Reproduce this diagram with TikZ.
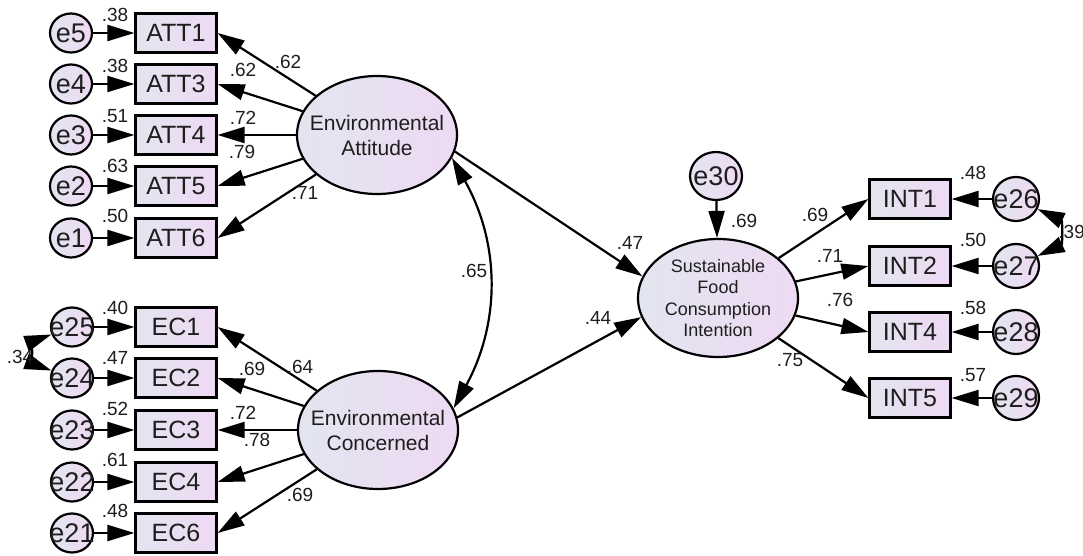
\documentclass[tikz,border=0pt]{standalone}
\usepackage{fontspec}
\setmainfont{Liberation Sans}
\usetikzlibrary{arrows.meta,shapes.geometric}
\definecolor{shL}{HTML}{E2E5F0}
\definecolor{shR}{HTML}{EED9F3}
\definecolor{txt}{HTML}{1E1E1E}
\newcommand{\ErrNode}[5][err]{\node[#1] (#2) at (#3,#4) {}; \node[errtxt] (#2t) at (#2) {#5};}
\newcommand{\LatNode}[5][\fontsize{21}{25}\selectfont]{\node[lat] (#2) at (#3,#4) {}; \node[lattxt,font=#1] (#2t) at (#2) {#5};}
\begin{document}
\begin{tikzpicture}[x=1pt,y=1pt,
 obs/.style={draw=black, line width=2.2pt, rectangle, minimum width=81pt, minimum height=39pt, inner sep=0pt, left color=shL, right color=shR, text=txt, font=\fontsize{25}{28}\selectfont},
 err/.style={draw=black, line width=2.2pt, ellipse, minimum width=42pt, minimum height=39pt, inner sep=0pt, left color=shL, right color=shR},
 errR/.style={err, minimum width=46pt, minimum height=44pt},
 errT/.style={err, minimum width=52pt, minimum height=48pt},
 errtxt/.style={inner sep=0pt, text=txt, font=\fontsize{27}{30}\selectfont},
 lat/.style={draw=black, line width=2.2pt, ellipse, minimum width=160pt, minimum height=118pt, inner sep=0pt, left color=shL, right color=shR},
 lattxt/.style={inner sep=0pt, align=center, text=txt},
 arr/.style={line width=2.2pt, -{Triangle[length=27pt,width=16pt]}},
 cov/.style={line width=2.2pt, {Triangle[length=27pt,width=16pt]}-{Triangle[length=27pt,width=16pt]}},
 lbl/.style={font=\fontsize{19}{21}\selectfont, inner sep=0pt, text=txt},
]
\useasboundingbox (0,0) rectangle (1083,-556);
% ---------- Environmental Attitude block
\ErrNode{e5}{71}{-33}{e5}
\ErrNode{e4}{71}{-84}{e4}
\ErrNode{e3}{71}{-135}{e3}
\ErrNode{e2}{71}{-186}{e2}
\ErrNode{e1}{71}{-238}{e1}
\node[obs] (ATT1) at (176,-33) {ATT1};
\node[obs] (ATT3) at (176,-84) {ATT3};
\node[obs] (ATT4) at (176,-135) {ATT4};
\node[obs] (ATT5) at (176,-186) {ATT5};
\node[obs] (ATT6) at (176,-238) {ATT6};
\LatNode{EA}{377}{-135}{Environmental\\Attitude}
\foreach \e/\b in {e5/ATT1,e4/ATT3,e3/ATT4,e2/ATT5,e1/ATT6}{\draw[arr] (\e) -- (\b);}
\foreach \b in {ATT1,ATT3,ATT4,ATT5,ATT6}{\draw[arr] (EA) -- (\b.east);}
\node[lbl] (r1) at (115,-15) {.38};
\node[lbl] (r2) at (115,-66) {.38};
\node[lbl] (r3) at (115,-116) {.51};
\node[lbl] (r4) at (115,-166) {.63};
\node[lbl] (r5) at (115,-216) {.50};
\node[lbl] (l1) at (288,-62) {.62};
\node[lbl] (l2) at (243,-70) {.62};
\node[lbl] (l3) at (243,-118) {.72};
\node[lbl] (l4) at (242,-152) {.79};
\node[lbl] (l5) at (305,-193) {.71};
% ---------- Environmental Concerned block
\ErrNode{e25}{72}{-327}{e25}
\ErrNode{e24}{72}{-378}{e24}
\ErrNode{e23}{72}{-430}{e23}
\ErrNode{e22}{72}{-482}{e22}
\ErrNode{e21}{72}{-533}{e21}
\node[obs] (EC1) at (176,-327) {EC1};
\node[obs] (EC2) at (176,-378) {EC2};
\node[obs] (EC3) at (176,-430) {EC3};
\node[obs] (EC4) at (176,-482) {EC4};
\node[obs] (EC6) at (176,-533) {EC6};
\LatNode{EC}{378}{-430}{Environmental\\Concerned}
\foreach \e/\b in {e25/EC1,e24/EC2,e23/EC3,e22/EC4,e21/EC6}{\draw[arr] (\e) -- (\b);}
\foreach \b in {EC1,EC2,EC3,EC4,EC6}{\draw[arr] (EC) -- (\b.east);}
\draw[cov] (e25.200) to[out=200,in=160,looseness=1.3] (e24.160);
\node[lbl] (c1) at (20,-357) {.34};
\node[lbl] (r6) at (115,-308) {.40};
\node[lbl] (r7) at (115,-358) {.47};
\node[lbl] (r8) at (115,-409) {.52};
\node[lbl] (r9) at (115,-460) {.61};
\node[lbl] (r10) at (115,-511) {.48};
\node[lbl] (l6) at (300,-367) {.64};
\node[lbl] (l7) at (252,-369) {.69};
\node[lbl] (l8) at (243,-413) {.72};
\node[lbl] (l9) at (257,-440) {.78};
\node[lbl] (l10) at (300,-495) {.69};
% ---------- Sustainable Food Consumption Intention block
\LatNode[\fontsize{18}{21.5}\selectfont]{SF}{718}{-298}{Sustainable\\Food\\Consumption\\Intention}
\ErrNode[errT]{e30}{716}{-176}{e30}
\draw[arr] (e30) -- (SF);
\node[lbl] (s1) at (744,-221) {.69};
\draw[arr] (EA.-12) -- (SF.164);
\draw[arr] (EC.9) -- (SF.194);
\draw[cov] (EA.-17) to[bend left=29] (EC.16);
\node[lbl] (m1) at (474,-271) {.65};
\node[lbl] (m2) at (630,-243) {.47};
\node[lbl] (m3) at (598,-318) {.44};
\node[obs] (INT1) at (910,-199) {INT1};
\node[obs] (INT2) at (910,-266) {INT2};
\node[obs] (INT4) at (910,-332) {INT4};
\node[obs] (INT5) at (910,-398) {INT5};
\ErrNode[errR]{e26}{1016}{-199}{e26}
\ErrNode[errR]{e27}{1016}{-266}{e27}
\ErrNode[errR]{e28}{1016}{-332}{e28}
\ErrNode[errR]{e29}{1016}{-398}{e29}
\foreach \b in {INT1,INT2,INT4,INT5}{\draw[arr] (SF) -- (\b.west);}
\foreach \e/\b in {e26/INT1,e27/INT2,e28/INT4,e29/INT5}{\draw[arr] (\e) -- (\b);}
\draw[cov] (e26.-25) to[out=-25,in=25,looseness=1.5] (e27.25);
\node[lbl,anchor=east] (c2) at (1085,-232) {.39};
\node[lbl] (k1) at (815,-215) {.69};
\node[lbl] (k2) at (830,-256) {.71};
\node[lbl] (k3) at (840,-300) {.76};
\node[lbl] (k4) at (790,-360) {.75};
\node[lbl] (r11) at (973,-173) {.48};
\node[lbl] (r12) at (973,-240) {.50};
\node[lbl] (r13) at (973,-308) {.58};
\node[lbl] (r14) at (973,-375) {.57};
\end{tikzpicture}
\end{document}
